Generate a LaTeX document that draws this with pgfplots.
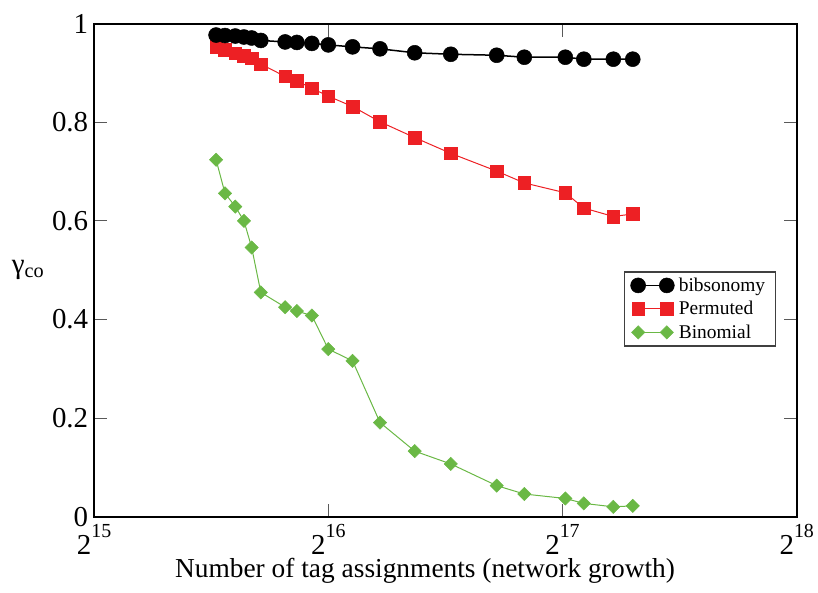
\documentclass[border=0pt]{standalone}
\usepackage{pgfplots}
\pgfplotsset{compat=1.18}
\usepackage{pgfplotstable}
\usepackage{fontspec}
\setmainfont{Liberation Serif}

\definecolor{permred}{RGB}{237,32,36}
\definecolor{binogreen}{RGB}{106,184,69}

% network size (tag assignments) and coefficient gamma_co for each sample
\pgfplotstableread{
n       bib    perm   bino
47022   0.977  0.953  0.724
48277   0.976  0.947  0.656
49772   0.975  0.940  0.629
51063   0.973  0.935  0.600
52245   0.971  0.930  0.546
53677   0.966  0.918  0.455
57689   0.963  0.893  0.425
59723   0.962  0.884  0.417
62433   0.960  0.869  0.408
65536   0.957  0.853  0.340
70432   0.953  0.832  0.316
76382   0.949  0.801  0.191
84633   0.941  0.769  0.133
94175   0.938  0.737  0.107
107879  0.936  0.701  0.063
117067  0.932  0.677  0.046
132166  0.932  0.657  0.037
139605  0.928  0.626  0.027
152345  0.928  0.609  0.020
161363  0.928  0.614  0.022
}\gcodata

\newcommand{\legfont}{\fontsize{19.5}{22}\selectfont}

\begin{document}
\begin{tikzpicture}
\useasboundingbox (-94bp,-76.3bp) rectangle (724bp,516.7bp);
\begin{axis}[
  scale only axis,
  width=702.7bp, height=493bp,
  xmode=log, log basis x=2,
  xmin=32768, xmax=262144,
  ymin=0, ymax=1,
  xtick={32768,65536,131072,262144},
  xticklabels={2\raisebox{0.6em}{\fontsize{20}{20}\selectfont 15},
               2\raisebox{0.6em}{\fontsize{20}{20}\selectfont 16},
               2\raisebox{0.6em}{\fontsize{20}{20}\selectfont 17},
               2\raisebox{0.6em}{\fontsize{20}{20}\selectfont 18}},
  ytick={0,0.2,0.4,0.6,0.8,1},
  yticklabels={0,0.2,0.4,0.6,0.8,1},
  minor tick num=0,
  tick align=inside,
  major tick length=13bp,
  every tick/.style={black!65, line width=1bp},
  axis line style={black, line width=1.8bp},
  tick label style={font=\fontsize{29}{30}\selectfont},
  xticklabel style={anchor=base, yshift=-38bp, inner sep=0pt},
  yticklabel style={anchor=east, xshift=-5.7bp, inner sep=0pt},
  xlabel={Number of tag assignments (network growth)},
  every axis x label/.style={at={(axis description cs:0.471,0)}, anchor=base, yshift=-61bp,
    inner sep=0pt, font=\fontsize{27.5}{30}\selectfont},
  ylabel={γ\textsubscript{co}},
  every axis y label/.style={at={(axis description cs:-0.094,0.5)}, anchor=center,
    font=\fontsize{29}{30}\selectfont},
  reverse legend,
  legend cell align=left,
  legend image code/.code={\draw[#1, mark repeat=1, mark phase=1] plot coordinates {(0bp,0bp) (28.7bp,0bp)};},
  legend style={at={(axis description cs:0.754,0.498)}, anchor=north west,
    draw=black!75, line width=1.5bp, fill=white,
    font=\legfont,
    inner xsep=6bp, inner ysep=4bp, row sep=4.5bp,
    nodes={inner xsep=4.5bp, inner ysep=2bp, font=\legfont}},
]
\addplot[color=binogreen, line width=1bp, mark=square*, mark size=4.7bp,
  mark options={rotate=45, solid, line width=0.5bp}]
  table[x=n, y=bino] {\gcodata};
\addlegendentry{Binomial}
\addplot[color=permred, line width=1bp, mark=square*, mark size=6.3bp,
  mark options={solid, line width=0.5bp}]
  table[x=n, y=perm] {\gcodata};
\addlegendentry{Permuted}
\addplot[color=black, line width=1.5bp, mark=*, mark size=7.5bp,
  mark options={solid, line width=0.5bp}]
  table[x=n, y=bib] {\gcodata};
\addlegendentry{bibsonomy}
\end{axis}
\end{tikzpicture}
\end{document}
